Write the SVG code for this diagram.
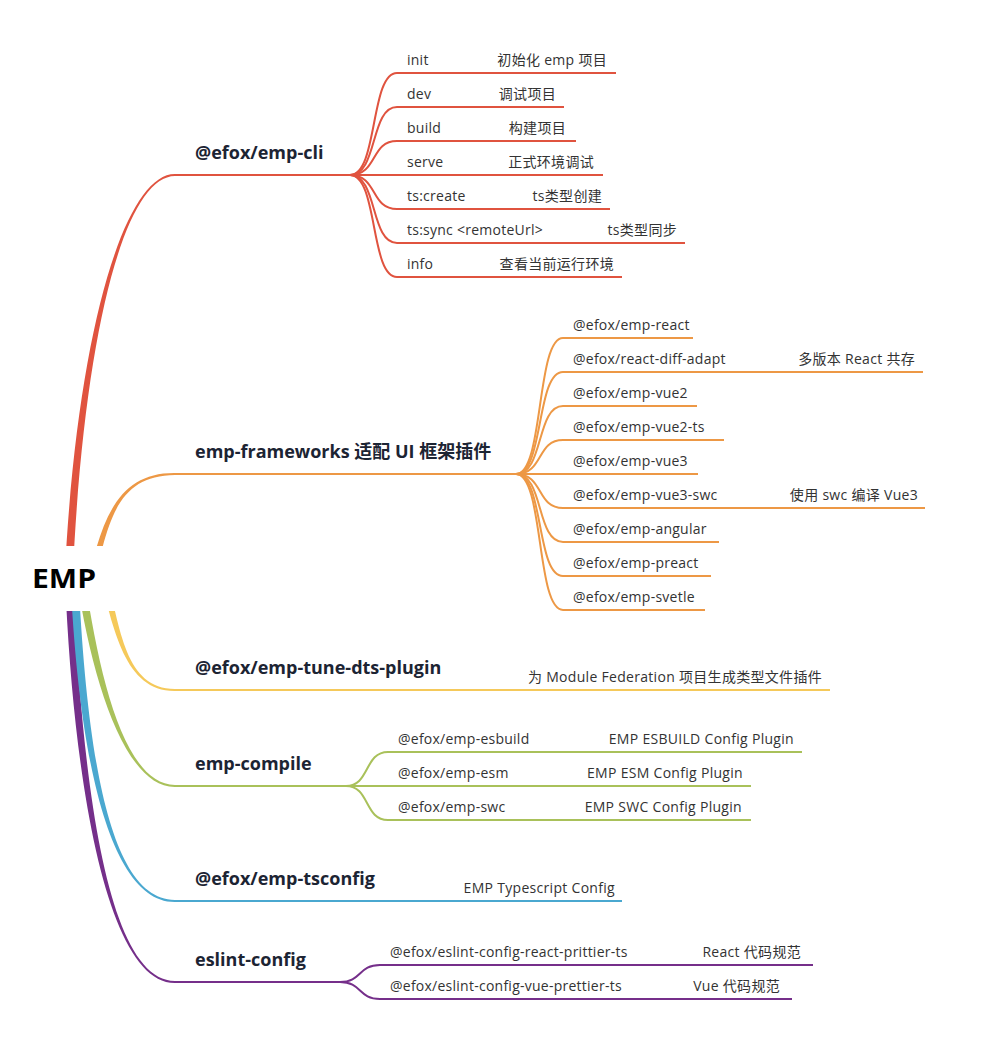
<svg xmlns="http://www.w3.org/2000/svg" width="994" height="1050" viewBox="0 0 994 1050">
<style>
.ln{fill:none;stroke-width:2}
.r{stroke:#e0533f}.o{stroke:#ed9845}.y{stroke:#f5c95a}.g{stroke:#a9c15a}.b{stroke:#4aa8d0}.p{stroke:#752f8a}
.fr{fill:#e0533f}.fo{fill:#ed9845}.fy{fill:#f5c95a}.fg{fill:#a9c15a}.fb{fill:#4aa8d0}.fp{fill:#752f8a}
.root{font-family:"Open Sans","Liberation Sans",sans-serif;font-weight:700;font-size:26px;fill:#000}
.l2{font-family:"Open Sans","Noto Sans CJK SC",sans-serif;font-weight:700;font-size:18px;fill:#1c2433}
.l3{font-family:"Open Sans","Noto Sans CJK SC",sans-serif;font-size:14px;letter-spacing:0.25px;fill:#333}
.d{font-family:"Open Sans","Noto Sans CJK SC",sans-serif;font-size:14px;letter-spacing:0.3px;fill:#333;text-anchor:end}
</style>
<rect width="994" height="1050" fill="#fff"/>
<g id="connectors">
<path class="fp" d="M66,600 C76,800 110,983.5 175,983 L175,981 C110,980.5 84,800 74,600 Z"/>
<path class="fb" d="M71,590 C81,780 115,902.5 175,902 L175,900 C115,899.5 89,780 79,590 Z"/>
<path class="fg" d="M77,580 C92,680 125,787.5 175,787 L175,785 C125,784.5 100,680 85,580 Z"/>
<path class="fy" d="M98.5,570 C113.5,630 125,691.5 175,691 L175,689 C125,688.5 120.5,630 105.5,570 Z"/>
<path class="fo" d="M84.5,600 C99.5,520 117,472.5 175,473 L175,475 C117,475.5 106.5,520 91.5,600 Z"/>
<path class="fr" d="M65,570 C77.5,330 125,173.5 175,174 L175,176 C125,176.5 84.5,330 73,570 Z"/>
<path class="ln r" d="M175,175 L350,175"/>
<path class="ln r" d="M350,175 C378,175 370,73 397,73 L616,73"/>
<path class="ln r" d="M350,175 C378,175 370,107 397,107 L564,107"/>
<path class="ln r" d="M350,175 C378,175 370,141 397,141 L576,141"/>
<path class="ln r" d="M350,175 L603,175"/>
<path class="ln r" d="M350,175 C378,175 370,209 397,209 L610,209"/>
<path class="ln r" d="M350,175 C378,175 370,243 397,243 L685,243"/>
<path class="ln r" d="M350,175 C378,175 370,277 397,277 L622,277"/>
<path class="ln o" d="M175,474 L516,474"/>
<path class="ln o" d="M516,474 C544,474 536,338 563,338 L693,338"/>
<path class="ln o" d="M516,474 C544,474 536,372 563,372 L923,372"/>
<path class="ln o" d="M516,474 C544,474 536,406 563,406 L697,406"/>
<path class="ln o" d="M516,474 C544,474 536,440 563,440 L724,440"/>
<path class="ln o" d="M516,474 L698,474"/>
<path class="ln o" d="M516,474 C544,474 536,508 563,508 L925,508"/>
<path class="ln o" d="M516,474 C544,474 536,542 563,542 L719,542"/>
<path class="ln o" d="M516,474 C544,474 536,576 563,576 L711,576"/>
<path class="ln o" d="M516,474 C544,474 536,610 563,610 L705,610"/>
<path class="ln y" d="M175,690 L830,690"/>
<path class="ln g" d="M175,786 L346,786"/>
<path class="ln g" d="M346,786 C370,786 364,752 388,752 L802,752"/>
<path class="ln g" d="M346,786 L751,786"/>
<path class="ln g" d="M346,786 C370,786 364,820 388,820 L751,820"/>
<path class="ln b" d="M175,901 L622,901"/>
<path class="ln p" d="M175,982 L340,982"/>
<path class="ln p" d="M340,982 C362,982 358,965 380,965 L813,965"/>
<path class="ln p" d="M340,982 C362,982 358,999 380,999 L792,999"/>
</g>
<g id="root">
<rect x="15" y="546" width="115" height="65" fill="#fff"/>
<text class="root" x="32" y="588" textLength="64" lengthAdjust="spacingAndGlyphs">EMP</text>
</g>
<g id="emp-cli">
<text class="l2" x="195" y="159">@efox/emp-cli</text>
<text class="l3" x="407" y="65">init</text><text class="d" x="607" y="65">初始化 emp 项目</text>
<text class="l3" x="407" y="99">dev</text><text class="d" x="556" y="99">调试项目</text>
<text class="l3" x="407" y="133">build</text><text class="d" x="566" y="133">构建项目</text>
<text class="l3" x="407" y="167">serve</text><text class="d" x="594" y="167">正式环境调试</text>
<text class="l3" x="407" y="201">ts:create</text><text class="d" x="602" y="201">ts类型创建</text>
<text class="l3" x="407" y="235">ts:sync &lt;remoteUrl&gt;</text><text class="d" x="677" y="235">ts类型同步</text>
<text class="l3" x="407" y="269">info</text><text class="d" x="614" y="269">查看当前运行环境</text>
</g>
<g id="emp-frameworks">
<text class="l2" x="195" y="458">emp-frameworks 适配 UI 框架插件</text>
<text class="l3" x="573" y="330">@efox/emp-react</text>
<text class="l3" x="573" y="364">@efox/react-diff-adapt</text><text class="d" x="915" y="364">多版本 React 共存</text>
<text class="l3" x="573" y="398">@efox/emp-vue2</text>
<text class="l3" x="573" y="432">@efox/emp-vue2-ts</text>
<text class="l3" x="573" y="466">@efox/emp-vue3</text>
<text class="l3" x="573" y="500">@efox/emp-vue3-swc</text><text class="d" x="918" y="500">使用 swc 编译 Vue3</text>
<text class="l3" x="573" y="534">@efox/emp-angular</text>
<text class="l3" x="573" y="568">@efox/emp-preact</text>
<text class="l3" x="573" y="602">@efox/emp-svetle</text>
</g>
<g id="emp-tune-dts-plugin">
<text class="l2" x="195" y="674">@efox/emp-tune-dts-plugin</text>
<text class="d" x="822" y="682">为 Module Federation 项目生成类型文件插件</text>
</g>
<g id="emp-compile">
<text class="l2" x="195" y="770">emp-compile</text>
<text class="l3" x="398" y="744">@efox/emp-esbuild</text><text class="d" x="794" y="744">EMP ESBUILD Config Plugin</text>
<text class="l3" x="398" y="778">@efox/emp-esm</text><text class="d" x="743" y="778">EMP ESM Config Plugin</text>
<text class="l3" x="398" y="812">@efox/emp-swc</text><text class="d" x="742" y="812">EMP SWC Config Plugin</text>
</g>
<g id="emp-tsconfig">
<text class="l2" x="195" y="885">@efox/emp-tsconfig</text>
<text class="d" x="615" y="893">EMP Typescript Config</text>
</g>
<g id="eslint-config">
<text class="l2" x="195" y="966">eslint-config</text>
<text class="l3" x="390" y="957">@efox/eslint-config-react-prittier-ts</text><text class="d" x="801" y="957">React 代码规范</text>
<text class="l3" x="390" y="991">@efox/eslint-config-vue-prettier-ts</text><text class="d" x="780" y="991">Vue 代码规范</text>
</g>
</svg>
